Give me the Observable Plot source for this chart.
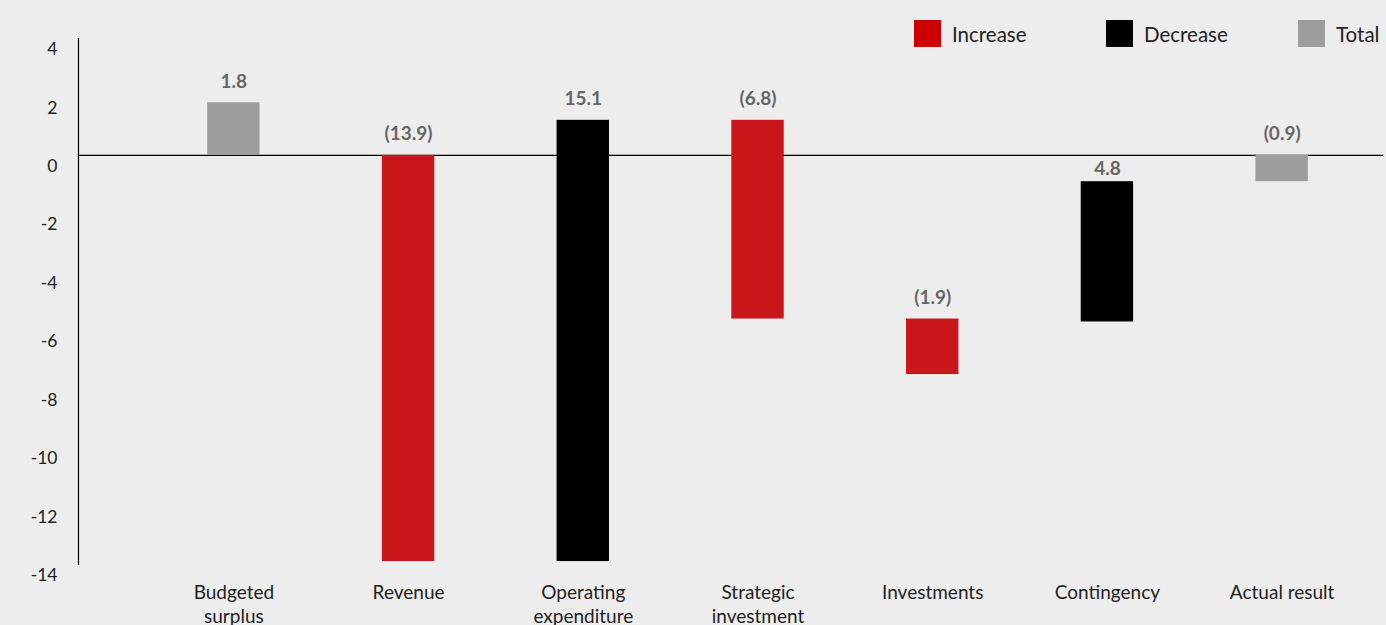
<!DOCTYPE html>
<html><head><meta charset="utf-8">
<script src="https://cdn.jsdelivr.net/npm/d3@7"></script>
<script src="https://cdn.jsdelivr.net/npm/@observablehq/plot@0.6"></script>
<style>
body{margin:0;background:#ededed;font-family:Lato,"Open Sans",sans-serif;}
#wrap{position:relative;width:1386px;height:625px;overflow:hidden;background:#ededed;}
#legend{position:absolute;top:20px;left:914px;display:flex;}
.item{width:192px;display:flex;align-items:center;height:27px;}
.sw{width:27px;height:27px;margin-right:11px;flex:none;}
.lt{font-size:20.5px;color:#222;}
</style></head><body><div id="wrap"><div id="legend"></div></div>
<script>
const categories = ["Budgeted surplus","Revenue","Operating expenditure","Strategic investment","Investments","Contingency","Actual result"];
const axisLabels = ["Budgeted\nsurplus","Revenue","Operating\nexpenditure","Strategic\ninvestment","Investments","Contingency","Actual result"];
const barStart = [0, 0, -13.9, 1.2, -5.6, -5.7, 0];
const barEnd = [1.8, -13.9, 1.2, -5.6, -7.5, -0.9, -0.9];
const valueLabels = ["1.8","(13.9)","15.1","(6.8)","(1.9)","4.8","(0.9)"];
const barType = ["Total","Increase","Decrease","Increase","Increase","Decrease","Total"];
const legendTypes = ["Increase","Decrease","Total"];
const barColors = ["#c8161b","#000000","#9d9d9b"];
const legendColors = ["#cc0000","#000000","#9d9d9b"];
const yTicks = [4,2,0,-2,-4,-6,-8,-10,-12,-14];

const data = categories.map((c,i)=>({cat:c, y1:barStart[i], y2:barEnd[i], label:valueLabels[i], type:barType[i], top:Math.max(barStart[i],barEnd[i])}));
const labelStyle = {x:"cat", y:"top", text:"label", lineAnchor:"bottom", fill:"#666", fontWeight:"bold", fontSize:19};

const chart = Plot.plot({
  width:1386, height:625, marginLeft:78, marginRight:3, marginTop:38, marginBottom:61,
  style:{background:"transparent", fontFamily:"Lato, 'Open Sans', sans-serif", overflow:"visible"},
  x:{domain:categories, insetLeft:68, insetRight:14, paddingInner:0.7, paddingOuter:0.35, round:false, label:null},
  y:{domain:[-14,4], label:null},
  color:{domain:legendTypes, range:barColors},
  marks:[
    Plot.frame({anchor:"left", stroke:"#000", strokeWidth:1.2}),
    Plot.ruleY([0], {stroke:"#000", strokeWidth:1.2}),
    Plot.barY(data, {x:"cat", y1:"y1", y2:"y2", fill:"type"}),
    Plot.text(data.filter(d=>d.cat!=="Contingency"), {...labelStyle, dy:-15}),
    Plot.text(data.filter(d=>d.cat==="Contingency"), {...labelStyle, dy:-7}),
    Plot.axisY({ticks:yTicks, tickFormat:d=>String(d), tickSize:0, tickPadding:21, dy:11, fontSize:17.5, label:null, color:"#222"}),
    Plot.axisX({tickSize:0, tickPadding:18, tickFormat:d=>axisLabels[categories.indexOf(d)], fontSize:19, label:null, lineHeight:1.25, color:"#222"})
  ]
});
const wrap = document.getElementById("wrap");
wrap.insertBefore(chart, wrap.firstChild);

const legend = document.getElementById("legend");
legendTypes.forEach((t,i)=>{
  const it = document.createElement("div"); it.className="item";
  const sw = document.createElement("div"); sw.className="sw"; sw.style.background=legendColors[i];
  const lt = document.createElement("span"); lt.className="lt"; lt.textContent=t;
  it.appendChild(sw); it.appendChild(lt); legend.appendChild(it);
});
</script></body></html>
